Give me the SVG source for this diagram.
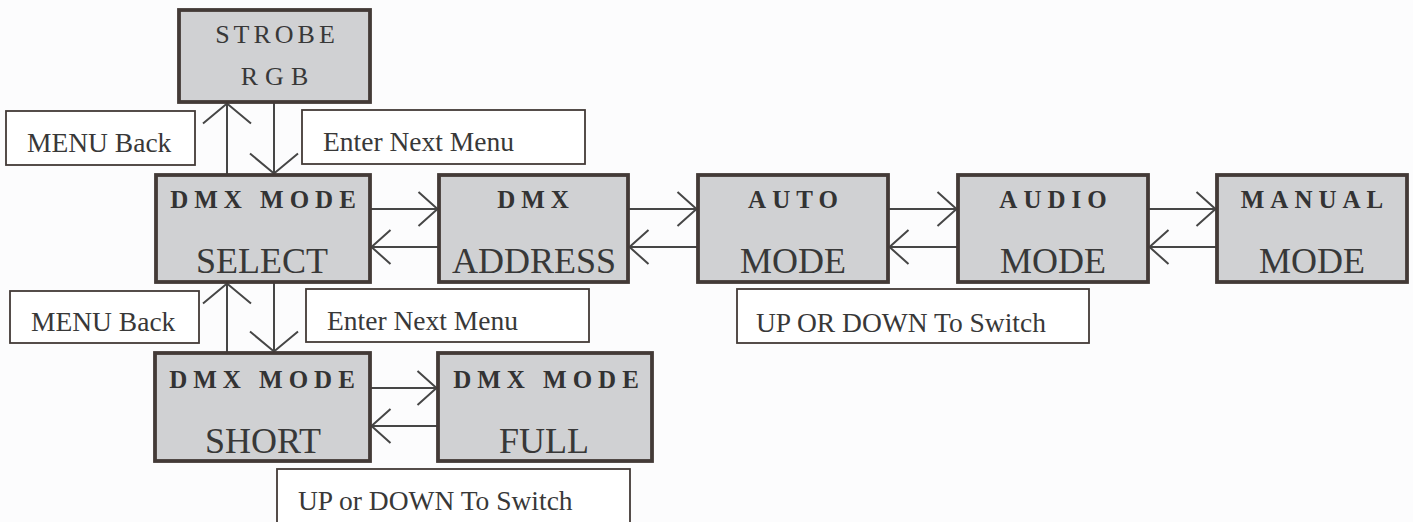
<svg xmlns="http://www.w3.org/2000/svg" width="1413" height="522" viewBox="0 0 1413 522">
<style>
.node rect{fill:#d0d1d3;stroke:#433a37;stroke-width:3.8}
.lbl rect{fill:#ffffff;stroke:#433a37;stroke-width:1.8}
text{font-family:"Liberation Serif","Times New Roman",serif;fill:#383838}
.hd{font-size:25px;font-weight:bold;letter-spacing:6px;text-anchor:middle;fill:#333}
.big{font-size:36px;text-anchor:middle}
.sr{font-size:26px;text-anchor:middle}
.lt{font-size:27.5px}
.conn line{stroke:#464646;stroke-width:2}
</style>
<defs>
<marker id="ah" markerUnits="userSpaceOnUse" viewBox="-30 -30 40 60" markerWidth="40" markerHeight="60" refX="0" refY="0" orient="auto">
<path d="M-19,-17 L0,0 L-19,17" fill="none" stroke="#464646" stroke-width="2"/>
</marker>
<marker id="av" markerUnits="userSpaceOnUse" viewBox="-30 -30 40 60" markerWidth="40" markerHeight="60" refX="0" refY="0" orient="auto">
<path d="M-20,-24 L0,0 L-20,24" fill="none" stroke="#464646" stroke-width="2"/>
</marker>
</defs>
<rect x="0" y="0" width="1413" height="522" fill="#fcfcfd"/>

<g class="conn">
<line x1="227" y1="175" x2="227" y2="103.5" marker-end="url(#av)"/>
<line x1="274" y1="102" x2="274" y2="173.5" marker-end="url(#av)"/>
<line x1="227" y1="353" x2="227" y2="283.5" marker-end="url(#av)"/>
<line x1="274" y1="282" x2="274" y2="351.5" marker-end="url(#av)"/>
<line x1="370" y1="209" x2="437.5" y2="209" marker-end="url(#ah)"/>
<line x1="439" y1="247" x2="371.5" y2="247" marker-end="url(#ah)"/>
<line x1="628" y1="209" x2="696.5" y2="209" marker-end="url(#ah)"/>
<line x1="698" y1="247" x2="629.5" y2="247" marker-end="url(#ah)"/>
<line x1="888" y1="209" x2="956.5" y2="209" marker-end="url(#ah)"/>
<line x1="958" y1="247" x2="889.5" y2="247" marker-end="url(#ah)"/>
<line x1="1148" y1="209" x2="1215.5" y2="209" marker-end="url(#ah)"/>
<line x1="1217" y1="247" x2="1149.5" y2="247" marker-end="url(#ah)"/>
<line x1="370" y1="388" x2="436.5" y2="388" marker-end="url(#ah)"/>
<line x1="438" y1="426" x2="371.5" y2="426" marker-end="url(#ah)"/>
</g>

<g id="strobe-rgb" class="node">
<rect x="179" y="10" width="191" height="92"/>
<text class="sr" x="277" y="43" style="letter-spacing:4px">STROBE</text>
<text class="sr" x="278" y="85" style="letter-spacing:7px">RGB</text>
</g>
<g id="dmx-mode-select" class="node">
<rect x="156" y="175" width="214" height="107"/>
<text class="hd" x="266" y="208">DMX MODE</text>
<text class="big" x="262" y="273">SELECT</text>
</g>
<g id="dmx-address" class="node">
<rect x="439" y="175" width="189" height="107"/>
<text class="hd" x="536" y="208">DMX</text>
<text class="big" x="534" y="273">ADDRESS</text>
</g>
<g id="auto-mode" class="node">
<rect x="698" y="175" width="190" height="107"/>
<text class="hd" x="796" y="208">AUTO</text>
<text class="big" x="793" y="273">MODE</text>
</g>
<g id="audio-mode" class="node">
<rect x="958" y="175" width="190" height="107"/>
<text class="hd" x="1056" y="208">AUDIO</text>
<text class="big" x="1053" y="273">MODE</text>
</g>
<g id="manual-mode" class="node">
<rect x="1217" y="175" width="190" height="107"/>
<text class="hd" x="1315" y="208">MANUAL</text>
<text class="big" x="1312" y="273">MODE</text>
</g>
<g id="dmx-mode-short" class="node">
<rect x="155" y="353" width="215" height="108"/>
<text class="hd" x="265" y="388">DMX MODE</text>
<text class="big" x="263" y="453">SHORT</text>
</g>
<g id="dmx-mode-full" class="node">
<rect x="438" y="353" width="214" height="108"/>
<text class="hd" x="549" y="388">DMX MODE</text>
<text class="big" x="544" y="453">FULL</text>
</g>

<g id="label-menu-back-1" class="lbl">
<rect x="6" y="111" width="189" height="54"/>
<text class="lt" x="27" y="152">MENU Back</text>
</g>
<g id="label-enter-next-1" class="lbl">
<rect x="302" y="110" width="283" height="54"/>
<text class="lt" x="323" y="151">Enter Next Menu</text>
</g>
<g id="label-menu-back-2" class="lbl">
<rect x="10" y="291" width="189" height="52"/>
<text class="lt" x="31" y="331">MENU Back</text>
</g>
<g id="label-enter-next-2" class="lbl">
<rect x="306" y="289" width="283" height="53"/>
<text class="lt" x="327" y="330">Enter Next Menu</text>
</g>
<g id="label-up-down-auto" class="lbl">
<rect x="737" y="289" width="352" height="54"/>
<text class="lt" x="756" y="332">UP OR DOWN To Switch</text>
</g>
<g id="label-up-down-dmx" class="lbl">
<rect x="277" y="469" width="353" height="60"/>
<text class="lt" x="298" y="510">UP or DOWN To Switch</text>
</g>
</svg>
